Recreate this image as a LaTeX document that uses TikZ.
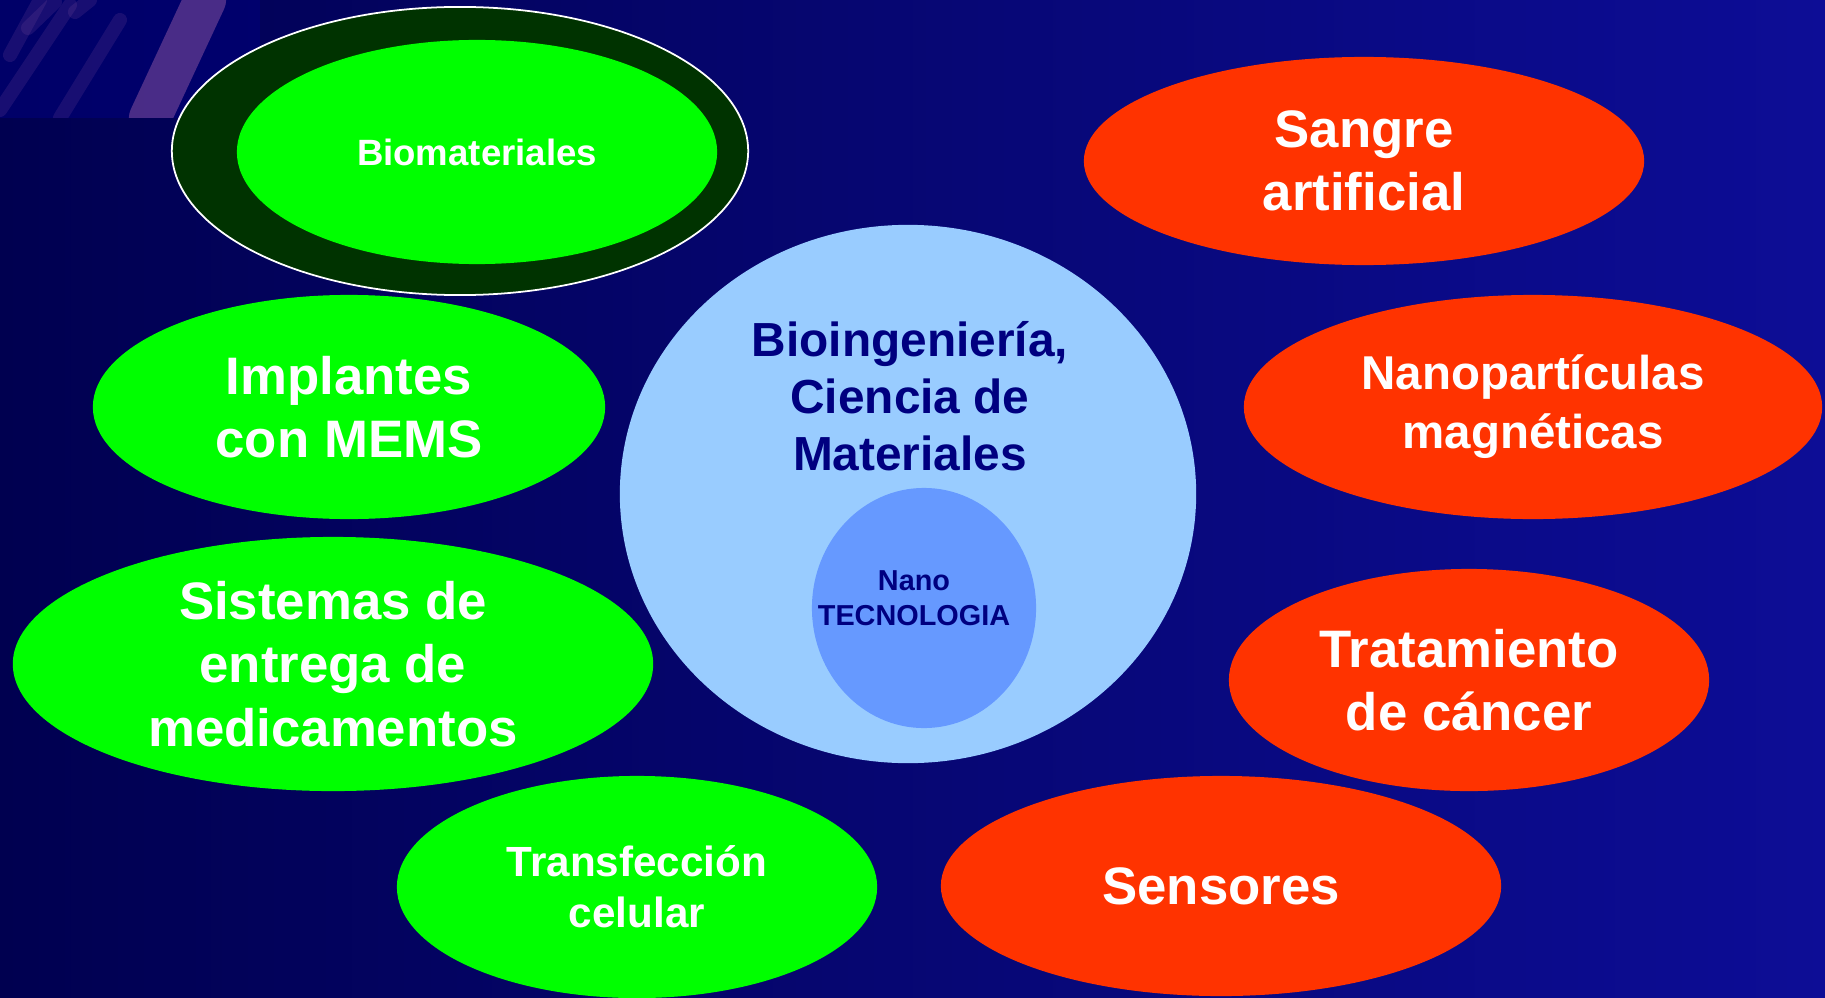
\documentclass[tikz,border=0pt]{standalone}
\usepackage{fontspec}
\setmainfont{Liberation Sans}
\usetikzlibrary{shapes.geometric}

\definecolor{bgleft}{HTML}{000050}
\definecolor{bgmid}{HTML}{040472}
\definecolor{bgright}{HTML}{0D0D96}
\definecolor{limegreen}{HTML}{00FF00}
\definecolor{darkgreen}{HTML}{003300}
\definecolor{redorange}{HTML}{FF3300}
\definecolor{paleblue}{HTML}{99CCFF}
\definecolor{nanoblue}{HTML}{6699FF}
\definecolor{navytext}{HTML}{000080}
\definecolor{streak}{HTML}{7A4A9A}

\tikzset{
  bubble/.style={ellipse, inner sep=0pt, align=center, text=white},
  bigfont/.style={font=\fontsize{15}{18}\selectfont\bfseries}
}

\begin{document}
\begin{tikzpicture}[x=0.01cm, y=-0.01cm]

\useasboundingbox (0, 0) rectangle (1825, 997);
\shade[left color=bgleft, middle color=bgmid, right color=bgright] (0, 0) rectangle (1825, 997);

% streaks top left
\begin{scope}[streak, opacity=0.2, line width=4pt, line cap=round]
    \clip (0, 0) rectangle (260, 118);
    \fill[navytext, opacity=0.5] (0, 0) rectangle (260, 118);
    \draw (10, 55) -- (40, 0);
    \draw (28, 28) -- (55, 2);
    \draw (75, 12) -- (90, 0);
    \draw (0, 110) -- (70, 5);
    \draw (60, 118) -- (120, 20);
    \draw[line width=12pt, opacity=0.6] (150, 118) -- (205, 0);
\end{scope}

\begin{scope}[every node/.style={bubble, bigfont, fill=limegreen}]
    \node (bioouter) at (460, 151) [fill=darkgreen, draw=white, line width=0.5pt,
        minimum width=5.76cm, minimum height=2.88cm] {};
    \node (bioinner) at (477, 152) [font=\fontsize{10.4}{12}\selectfont\bfseries,
        minimum width=4.80cm, minimum height=2.24cm] {Biomateriales};

    \node (implantes) at (349, 407) [minimum width=5.12cm, minimum height=2.24cm]
        {Implantes\\con MEMS};
    \node (sistemas) at (333, 664) [minimum width=6.40cm, minimum height=2.54cm]
        {Sistemas de\\entrega de\\medicamentos};
    \node (transfeccion) at (637, 887) [font=\fontsize{12}{14.5}\selectfont\bfseries,
        minimum width=4.80cm, minimum height=2.22cm] {Transfección\\celular};
\end{scope}

\begin{scope}[every node/.style={bubble, bigfont, fill=redorange}]
    \node (sangre) at (1364, 161) [minimum width=5.60cm, minimum height=2.08cm]
        {Sangre\\artificial};
    \node (nanoparticulas) at (1533, 407) [font=\fontsize{13.5}{16.8}\selectfont\bfseries,
        minimum width=5.78cm, minimum height=2.24cm] {Nanopartículas\\magnéticas};
    \node (tratamiento) at (1469, 680) [minimum width=4.80cm, minimum height=2.22cm]
        {Tratamiento\\de cáncer};
    \node (sensores) at (1221, 886) [minimum width=5.60cm, minimum height=2.20cm]
        {Sensores};
\end{scope}

\node (ciencia) at (908, 494) [ellipse, fill=paleblue, inner sep=0pt,
    minimum width=5.76cm, minimum height=5.38cm] {};
\node (cienciatext) at (910, 396) [align=center, text=navytext,
    font=\fontsize{13.6}{16.2}\selectfont\bfseries] {Bioingeniería,\\Ciencia de\\Materiales};

\node (nano) at (924, 608) [ellipse, fill=nanoblue, inner sep=0pt,
    minimum width=2.24cm, minimum height=2.40cm] {};
\node (nanotext) at (914, 598) [align=center, text=navytext,
    font=\fontsize{8.2}{10}\selectfont\bfseries] {Nano\\TECNOLOGIA};

\end{tikzpicture}
\end{document}
